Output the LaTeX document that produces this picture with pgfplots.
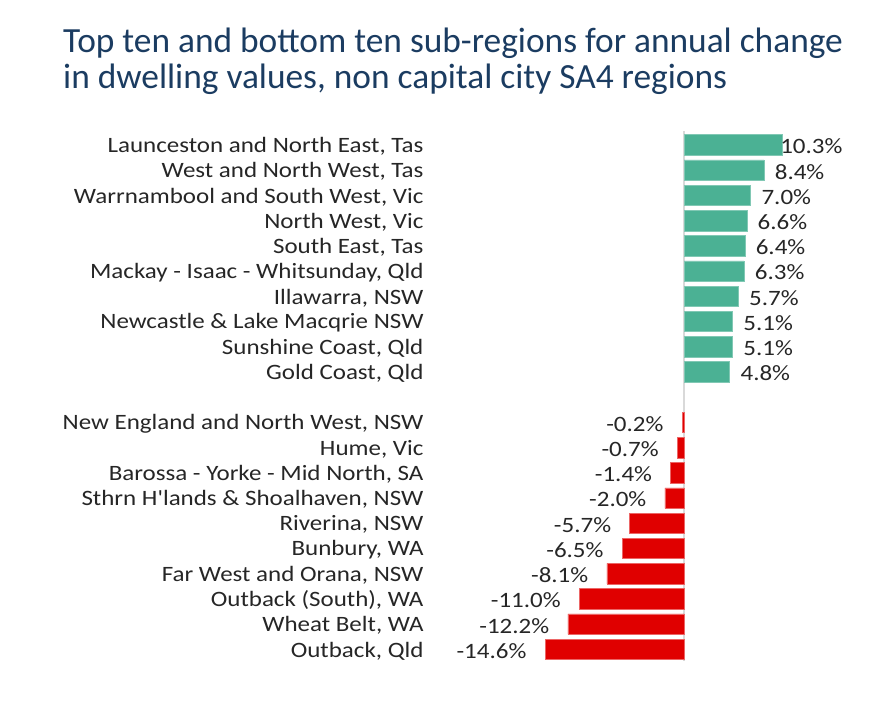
\documentclass[border=0pt]{standalone}
\usepackage{pgfplots}
\pgfplotsset{compat=1.18}
\usepackage{fontspec}
\setmainfont{Carlito}
\newfontfamily\labelfont{Carlito}[FakeStretch=1.14]
\definecolor{titleblue}{HTML}{1B3C61}
\definecolor{posgreen}{HTML}{4BB194}
\definecolor{negred}{HTML}{E00000}
\definecolor{txt}{HTML}{262626}
\definecolor{zeroline}{HTML}{D9D9D9}
\begin{document}
\begin{tikzpicture}[x=1bp,y=1bp]
\path[use as bounding box] (0,0) rectangle (870,716);
\node[anchor=base west, align=left, text=titleblue, font=\fontsize{35.5}{37}\selectfont, inner sep=0pt] at (63,627)
  {Top ten and bottom ten sub-regions for annual change\\in dwelling values, non capital city SA4 regions};
\begin{axis}[
  at={(684bp,571bp)}, anchor=origin,
  x=9.52bp, y=25.22bp, y dir=reverse,
  xmin=-27, xmax=18, ymin=-0.6, ymax=20.6,
  axis line style={draw=none},
  major tick length=0pt,
  xtick=\empty,
  ytick={0,1,2,3,4,5,6,7,8,9,11,12,13,14,15,16,17,18,19,20},
  yticklabels={Launceston and North East{,} Tas, West and North West{,} Tas, Warrnambool and South West{,} Vic, North West{,} Vic, South East{,} Tas, Mackay - Isaac - Whitsunday{,} Qld, Illawarra{,} NSW, Newcastle \& Lake Macqrie  NSW, Sunshine Coast{,} Qld, Gold Coast{,} Qld,
    New England and North West{,} NSW, Hume{,} Vic, Barossa - Yorke - Mid North{,} SA, Sthrn H'lands \& Shoalhaven{,} NSW, Riverina{,} NSW, Bunbury{,} WA, Far West and Orana{,} NSW, Outback (South){,} WA, Wheat Belt{,} WA, Outback{,} Qld},
  yticklabel style={font=\labelfont\fontsize{22}{25}\selectfont, text=txt, yshift=-1.5bp},
  clip=false,
  xbar, bar width=20.5bp, bar shift=0pt,
]
\draw[zeroline, line width=2bp] (axis cs:0,-0.55) -- (axis cs:0,20.45);
\addplot[xbar, fill=posgreen, draw=posgreen!70!white, line width=0.6bp, point meta=explicit symbolic,
  nodes near coords=\pgfplotspointmeta\%,
  nodes near coords style={anchor=east, xshift=64bp, yshift=-1.5bp, font=\labelfont\fontsize{22}{25}\selectfont, text=txt}]
  table[x=v, y=r, meta=l] {
r v l
0 10.3 10.3
1 8.4 8.4
2 7.0 7.0
3 6.6 6.6
4 6.4 6.4
5 6.3 6.3
6 5.7 5.7
7 5.1 5.1
8 5.1 5.1
9 4.8 4.8
};
\addplot[xbar, fill=negred, draw=negred!60!white, line width=0.6bp, point meta=explicit symbolic,
  nodes near coords=\pgfplotspointmeta\%,
  nodes near coords style={anchor=east, xshift=-15bp, yshift=-1.5bp, font=\labelfont\fontsize{22}{25}\selectfont, text=txt}]
  table[x=v, y=r, meta=l] {
r v l
11 -0.2 -0.2
12 -0.7 -0.7
13 -1.4 -1.4
14 -2.0 -2.0
15 -5.7 -5.7
16 -6.5 -6.5
17 -8.1 -8.1
18 -11.0 -11.0
19 -12.2 -12.2
20 -14.6 -14.6
};
\end{axis}
\end{tikzpicture}
\end{document}
